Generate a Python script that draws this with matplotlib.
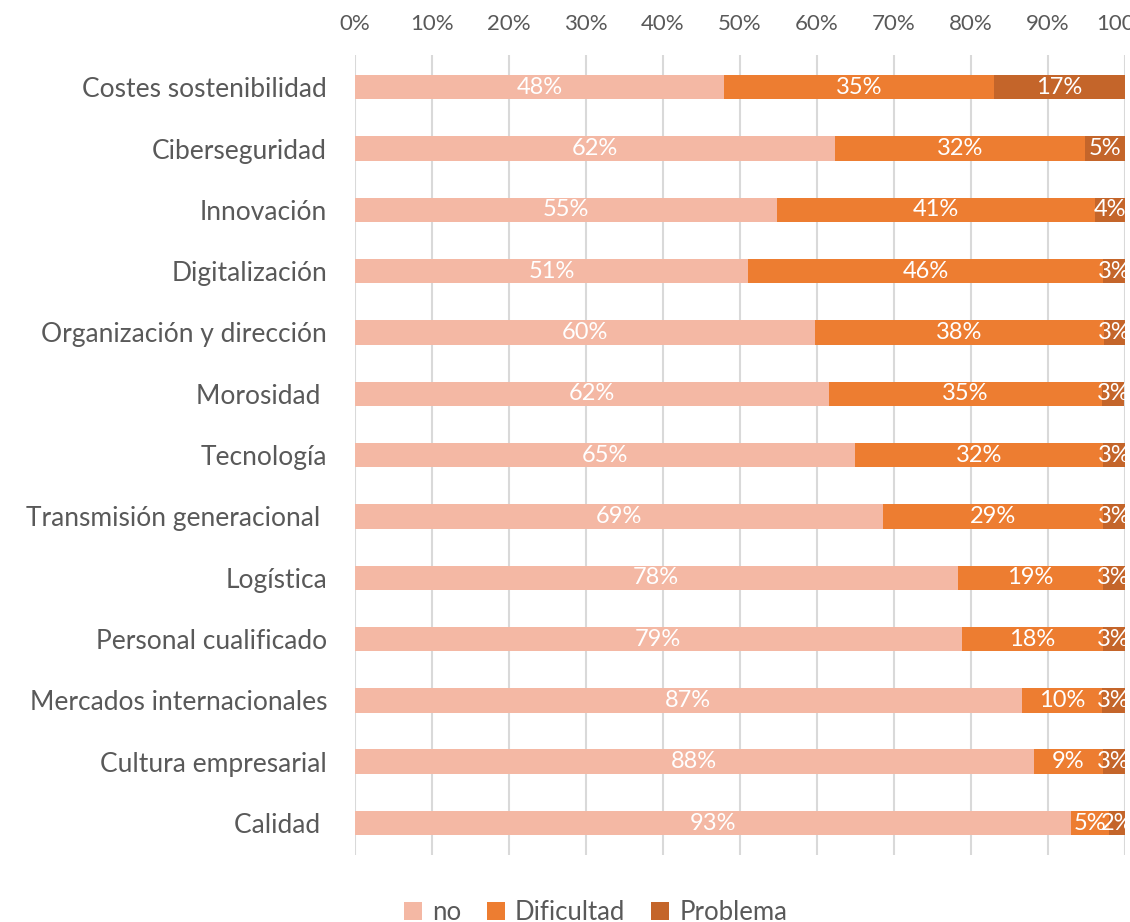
import numpy as np
import matplotlib.pyplot as plt

categorias = ["Costes sostenibilidad", "Ciberseguridad", "Innovación", "Digitalización",
              "Organización y dirección", "Morosidad ", "Tecnología", "Transmisión generacional ",
              "Logística", "Personal cualificado", "Mercados internacionales",
              "Cultura empresarial", "Calidad "]
no = [48.0, 62.3, 54.8, 51.1, 59.7, 61.6, 65.0, 68.6, 78.3, 78.8, 86.6, 88.2, 93.0]
dificultad = [35.0, 32.5, 41.3, 46.1, 37.6, 35.4, 32.2, 28.6, 18.8, 18.3, 10.4, 8.9, 4.9]
problema = [17.0, 5.2, 3.9, 2.8, 2.7, 2.9, 2.8, 2.8, 2.9, 2.9, 3.0, 2.9, 2.1]
series = ["no", "Dificultad", "Problema"]
colores = ["#F4B8A4", "#ED7D31", "#C4652A"]

plt.rcParams['font.family'] = ['Lato', 'DejaVu Sans']
gris = "#595959"

fig = plt.figure(figsize=(11.3, 9.22), dpi=100)
ax = fig.add_axes([0.314, 0.0727, 0.6815, 0.8673])

y = np.arange(len(categorias))
izq = np.zeros(len(categorias))
for nombre, vals, col in zip(series, [no, dificultad, problema], colores):
    vals = np.array(vals)
    bars = ax.barh(y, vals, left=izq, height=0.4, color=col, label=nombre, zorder=2)
    ax.bar_label(bars, labels=[f"{round(v):.0f}%" for v in vals], label_type='center',
                 color='white', fontsize=17)
    izq = izq + vals

ax.set_xlim(0, 100)
ax.set_ylim(12.52, -0.52)
ax.set_xticks(np.arange(0, 101, 10))
ax.set_xticklabels([f"{v}%" for v in range(0, 101, 10)], fontsize=16, color=gris)
ax.xaxis.tick_top()
ax.tick_params(axis='x', length=0, pad=15)
ax.set_yticks(y)
ax.set_yticklabels(categorias, fontsize=19, color=gris)
ax.tick_params(axis='y', length=0, pad=20)
ax.grid(axis='x', color='#D9D9D9', linewidth=1.5, zorder=0)
for s in ax.spines.values():
    s.set_visible(False)

fig.legend(loc='center', bbox_to_anchor=(0.527, 0.010), ncol=3, frameon=False,
           fontsize=18.5, labelcolor=gris, handlelength=0.7, handleheight=0.7,
           columnspacing=1.0, handletextpad=0.4)

fig.savefig("out.png", dpi=100)
